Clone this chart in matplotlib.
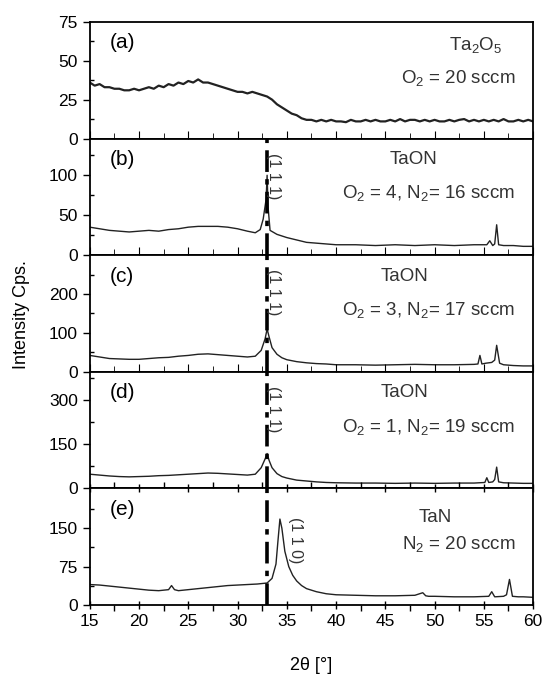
import matplotlib
matplotlib.use("Agg")
import matplotlib.pyplot as plt

plt.rcParams['font.family'] = ['Liberation Sans', 'DejaVu Sans']
plt.rcParams['mathtext.default'] = 'regular'

# (a) Ta2O5
xa = [15.0, 15.5, 16.0, 16.5, 17.0, 17.5, 18.0, 18.5, 19.0, 19.5, 20.0, 20.5, 21.0, 21.5, 22.0, 22.5,
      23.0, 23.5, 24.0, 24.5, 25.0, 25.5, 26.0, 26.5, 27.0, 27.5, 28.0, 28.5, 29.0, 29.5, 30.0, 30.5,
      31.0, 31.5, 32.0, 32.5, 33.0, 33.5, 34.0, 34.5, 35.0, 35.5, 36.0, 36.5, 37.0, 37.5, 38.0, 38.5,
      39.0, 39.5, 40.0, 40.5, 41.0, 41.5, 42.0, 42.5, 43.0, 43.5, 44.0, 44.5, 45.0, 45.5, 46.0, 46.5,
      47.0, 47.5, 48.0, 48.5, 49.0, 49.5, 50.0, 50.5, 51.0, 51.5, 52.0, 52.5, 53.0, 53.5, 54.0, 54.5,
      55.0, 55.5, 56.0, 56.5, 57.0, 57.5, 58.0, 58.5, 59.0, 59.5, 60.0]
ya = [36, 34, 35, 33, 33, 32, 32, 31, 31, 32, 31, 32, 33, 32, 34, 33,
      35, 34, 36, 35, 37, 36, 38, 36, 36, 35, 34, 33, 32, 31, 30, 30,
      29, 30, 29, 28, 27, 25, 22, 20, 18, 16, 15, 13, 12, 12, 11, 12,
      11, 12, 11, 11, 10.5, 12, 11, 11, 12, 11, 12, 11, 11, 12, 11, 12.5,
      11, 12, 12, 11, 12, 11, 12, 11, 11, 12, 11, 12, 12.5, 11, 12, 11,
      12, 11, 12, 11, 12.5, 11, 11, 12, 11, 12, 11]

# (b) TaON  O2=4, N2=16
xb = [15, 16, 17, 18, 19, 20, 21, 22, 23, 24, 25, 26, 27, 28, 29, 30, 31, 31.8, 32.3, 32.6, 32.9,
      33.0, 33.1, 33.3, 34, 35, 36, 37, 38, 39, 40, 42, 44, 46, 48, 50, 52, 54, 55.3, 55.6, 55.9,
      56.1, 56.3, 56.5, 57, 58, 59, 60]
yb = [35, 33, 31, 30, 29, 30, 31, 30, 32, 33, 35, 36, 36, 36, 35, 33, 30, 28, 32, 45, 70,
      100, 60, 31, 26, 22, 19, 16, 15, 14, 13, 13, 12, 13, 12, 13, 12, 13, 13, 18, 12,
      14, 38, 13, 12, 12, 11, 11]

# (c) TaON  O2=3, N2=17
xc = [15, 16, 17, 18, 19, 20, 21, 22, 23, 24, 25, 26, 27, 28, 29, 30, 31, 31.8, 32.4, 32.8, 33.0,
      33.2, 33.5, 34, 34.5, 35, 36, 37, 38, 39, 40, 42, 44, 46, 48, 50, 52, 54, 54.4, 54.6, 54.8,
      55.2, 55.8, 56.1, 56.3, 56.6, 57, 58, 59, 60]
yc = [42, 38, 34, 33, 32, 32, 34, 36, 37, 40, 42, 45, 46, 44, 42, 40, 38, 40, 55, 85, 110,
      90, 62, 45, 36, 31, 26, 23, 21, 20, 18, 18, 17, 18, 19, 18, 18, 19, 20, 42, 20,
      22, 24, 30, 68, 22, 18, 16, 15, 15]

# (d) TaON  O2=1, N2=19
xd = [15, 16, 17, 18, 19, 20, 21, 22, 23, 24, 25, 26, 27, 28, 29, 30, 31, 31.8, 32.4, 32.8, 33.0,
      33.2, 33.5, 34, 34.5, 35, 36, 37, 38, 39, 40, 42, 44, 46, 48, 50, 52, 54, 55.1, 55.3, 55.5,
      55.9, 56.1, 56.3, 56.5, 57, 58, 59, 60]
yd = [48, 45, 42, 40, 39, 40, 41, 43, 44, 46, 48, 50, 52, 51, 49, 47, 45, 48, 70, 100, 118,
      95, 70, 50, 40, 35, 28, 25, 22, 20, 19, 18, 18, 17, 18, 17, 18, 18, 20, 36, 20,
      22, 30, 72, 22, 19, 18, 17, 17]

# (e) TaN  N2=20
xe = [15, 16, 17, 18, 19, 20, 21, 22, 23, 23.3, 23.6, 24, 25, 26, 27, 28, 29, 30, 31, 32, 33, 33.5,
      33.9, 34.1, 34.3, 34.5, 34.8, 35.2, 35.6, 36, 36.5, 37, 38, 39, 40, 42, 44, 46, 48, 48.8, 49.1,
      49.4, 50, 52, 54, 55.5, 55.8, 56.1, 57, 57.3, 57.6, 57.9, 58.5, 59, 60]
ye = [40, 39, 37, 35, 33, 31, 29, 28, 30, 38, 30, 28, 30, 32, 34, 36, 38, 39, 40, 41, 43, 52,
      80, 125, 168, 150, 105, 75, 58, 47, 38, 32, 26, 22, 20, 19, 18, 18, 19, 24, 18,
      17, 17, 16, 16, 17, 26, 16, 17, 20, 50, 17, 16, 16, 15]

panels = ['(a)', '(b)', '(c)', '(d)', '(e)']
materials = ['Ta$_2$O$_5$', 'TaON', 'TaON', 'TaON', 'TaN']
conditions = ['O$_2$ = 20 sccm', 'O$_2$ = 4, N$_2$= 16 sccm', 'O$_2$ = 3, N$_2$= 17 sccm',
              'O$_2$ = 1, N$_2$= 19 sccm', 'N$_2$ = 20 sccm']
ylims = [75, 146, 300, 395, 228]
yticks = [[0, 25, 50, 75], [0, 50, 100], [0, 100, 200], [0, 150, 300], [0, 75, 150]]
yminor = [[12.5, 37.5, 62.5], [25, 75, 125], [50, 150, 250], [75, 225, 375], [37.5, 112.5, 187.5]]
xmajor = [15, 20, 25, 30, 35, 40, 45, 50, 55, 60]
xminor = [17.5, 22.5, 27.5, 32.5, 37.5, 42.5, 47.5, 52.5, 57.5]
peak_labels = [None, '(1 1 1)', '(1 1 1)', '(1 1 1)', '(1 1 0)']
peak_pos = 33.0

xs = [xa, xb, xc, xd, xe]
ys = [ya, yb, yc, yd, ye]

fig, axes = plt.subplots(5, 1, figsize=(5.44, 6.84), dpi=100, sharex=True)
fig.subplots_adjust(left=0.165, right=0.98, top=0.968, bottom=0.1155, hspace=0)

mat_pos = [(0.87, 0.80), (0.73, 0.82), (0.71, 0.82), (0.71, 0.82), (0.78, 0.75)]
cond_y = [0.52, 0.53, 0.53, 0.53, 0.52]

for i, ax in enumerate(axes):
    lw = 1.6 if i == 0 else 1.0
    ax.plot(xs[i], ys[i], color='#222222', lw=lw)
    ax.set_xlim(15, 60)
    ax.set_ylim(0, ylims[i])
    ax.set_yticks(yticks[i])
    ax.set_yticks(yminor[i], minor=True)
    ax.set_xticks(xmajor)
    ax.set_xticks(xminor, minor=True)
    ax.tick_params(axis='y', which='major', direction='out', length=5, labelsize=12.5, width=1)
    ax.tick_params(axis='y', which='minor', direction='in', length=3, width=1)
    if i < 4:
        ax.tick_params(axis='x', which='both', bottom=False, labelbottom=False)
    else:
        ax.tick_params(axis='x', which='major', direction='inout', length=9, labelsize=12.5, width=1)
        ax.tick_params(axis='x', which='minor', direction='out', length=4, width=1)
    if i > 0:
        ax.tick_params(axis='x', which='major', top=True, length=6)
        ax.tick_params(axis='x', which='minor', top=True, length=4)
        ax.axvline(peak_pos, color='black', lw=2.6, linestyle=(0, (6, 2, 1.5, 2)))
    for sp in ax.spines.values():
        sp.set_linewidth(1.3)
    ax.text(0.045, 0.82, panels[i], transform=ax.transAxes, fontsize=15, va='center', ha='left')
    ax.text(mat_pos[i][0], mat_pos[i][1], materials[i], transform=ax.transAxes, fontsize=13.5,
            va='center', ha='center', color='#333333')
    ax.text(0.96, cond_y[i], conditions[i], transform=ax.transAxes,
            fontsize=13.5, va='center', ha='right', color='#333333')
    if peak_labels[i]:
        px = peak_pos + 0.6 if i < 4 else 35.9
        py = 0.68 if i < 4 else 0.56
        ax.text(px, py, peak_labels[i], transform=ax.get_xaxis_transform(), rotation=-90,
                fontsize=11.5, va='center', ha='center', color='#333333')

axes[-1].set_xlabel('2θ [°]', fontsize=13, labelpad=20)
fig.text(0.04, 0.54, 'Intensity Cps.', rotation=90, fontsize=13, va='center', ha='center')

fig.savefig('out.png', dpi=100)
